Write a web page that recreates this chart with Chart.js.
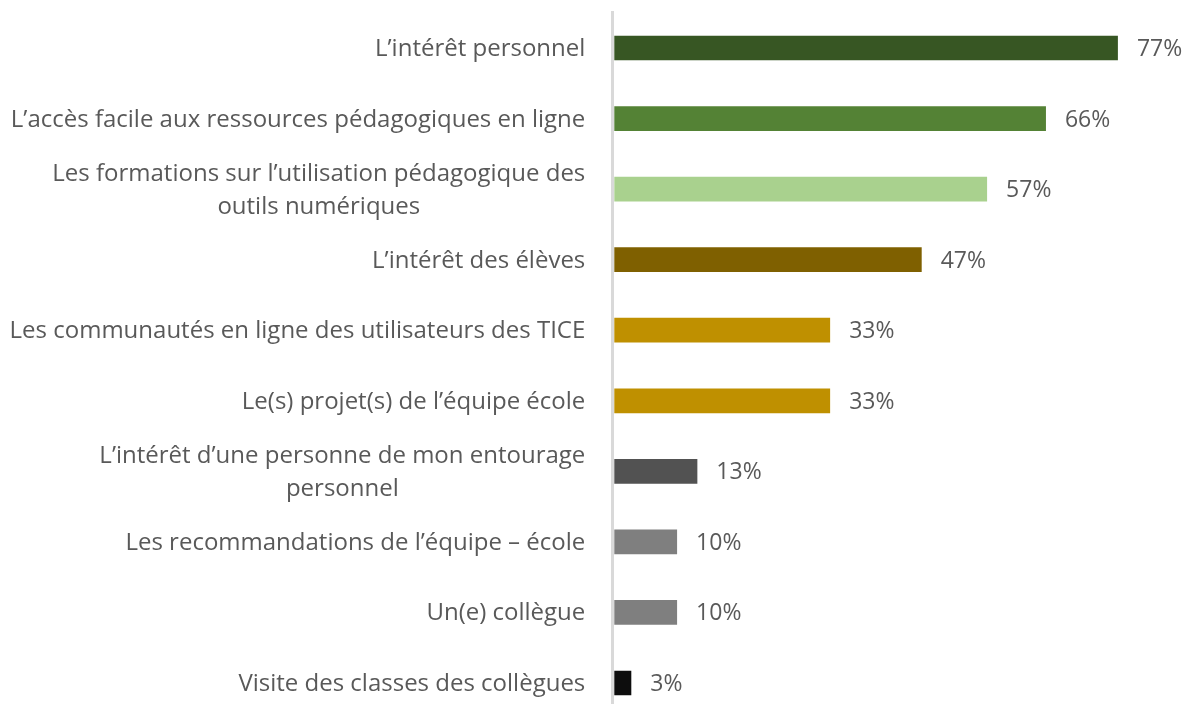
<!DOCTYPE html>
<html>
<head>
<meta charset="utf-8">
<script src="https://cdn.jsdelivr.net/npm/chart.js@4"></script>
<style>
  html, body { margin: 0; padding: 0; overflow: hidden; background: #fff; }
  #wrap { width: 1187px; height: 720px; position: relative; }
</style>
</head>
<body>
<div id="wrap"><canvas id="chart"></canvas></div>
<script>
var categories = [
    "L’intérêt personnel",
    "L’accès facile aux ressources pédagogiques en ligne",
    ["Les formations sur l’utilisation pédagogique des", "outils numériques"],
    "L’intérêt des élèves",
    "Les communautés en ligne des utilisateurs des TICE",
    "Le(s) projet(s) de l’équipe école",
    ["L’intérêt d’une personne de mon entourage", "personnel"],
    "Les recommandations de l’équipe – école",
    "Un(e) collègue",
    "Visite des classes des collègues"
];
var values = [77, 66, 57, 47, 33, 33, 12.7, 9.6, 9.6, 2.6];
var valueLabels = ["77%", "66%", "57%", "47%", "33%", "33%", "13%", "10%", "10%", "3%"];
var barColors = ["#375623", "#548235", "#a9d18e", "#7f6000", "#bf9000",
                 "#bf9000", "#525252", "#7f7f7f", "#7f7f7f", "#0d0d0d"];

var FONT = "24px 'Open Sans'";
var VALUE_FONT = "23px 'Open Sans'";
var TEXT = "#595959";

// draws the category labels (centered when wrapped) and the value labels
var labelPlugin = {
    id: 'labels',
    afterDraw: function (chart) {
        var ctx = chart.ctx;
        var yScale = chart.scales.y;
        var meta = chart.getDatasetMeta(0);
        ctx.save();
        ctx.font = FONT;
        ctx.fillStyle = TEXT;
        ctx.textBaseline = 'alphabetic';
        var rightEdge = chart.chartArea.left - 27;
        categories.forEach(function (cat, i) {
            var cy = yScale.getPixelForTick(i) + 8;
            if (Array.isArray(cat)) {
                var w = ctx.measureText(cat[0]).width;
                var cx = rightEdge - w / 2;
                ctx.textAlign = 'center';
                ctx.fillText(cat[0], cx, cy - 16.5);
                ctx.fillText(cat[1], cx, cy + 16.5);
            } else {
                ctx.textAlign = 'right';
                ctx.fillText(cat, rightEdge, cy);
            }
        });
        ctx.font = VALUE_FONT;
        ctx.textAlign = 'left';
        meta.data.forEach(function (bar, i) {
            ctx.fillText(valueLabels[i], bar.x + 19, bar.y + 8);
        });
        ctx.restore();
    }
};

var ctx = document.getElementById("chart").getContext('2d');
var myChart = new Chart(ctx, {
    type: 'bar',
    data: {
        labels: categories,
        datasets: [{
            data: values,
            backgroundColor: barColors,
            borderWidth: 0,
            barPercentage: 0.35,
            categoryPercentage: 1
        }]
    },
    options: {
        indexAxis: 'y',
        responsive: true,
        maintainAspectRatio: false,
        animation: false,
        layout: { padding: { left: 612.3, right: 3.7, top: 12.7, bottom: 1.7 } },
        plugins: { legend: { display: false }, tooltip: { enabled: false } },
        scales: {
            x: { display: false, min: -0.306, max: 87 },
            y: {
                ticks: { display: false },
                grid: { drawOnChartArea: false, drawTicks: false },
                border: { color: '#d9d9d9', width: 3 }
            }
        }
    },
    plugins: [labelPlugin]
});
</script>
</body>
</html>
